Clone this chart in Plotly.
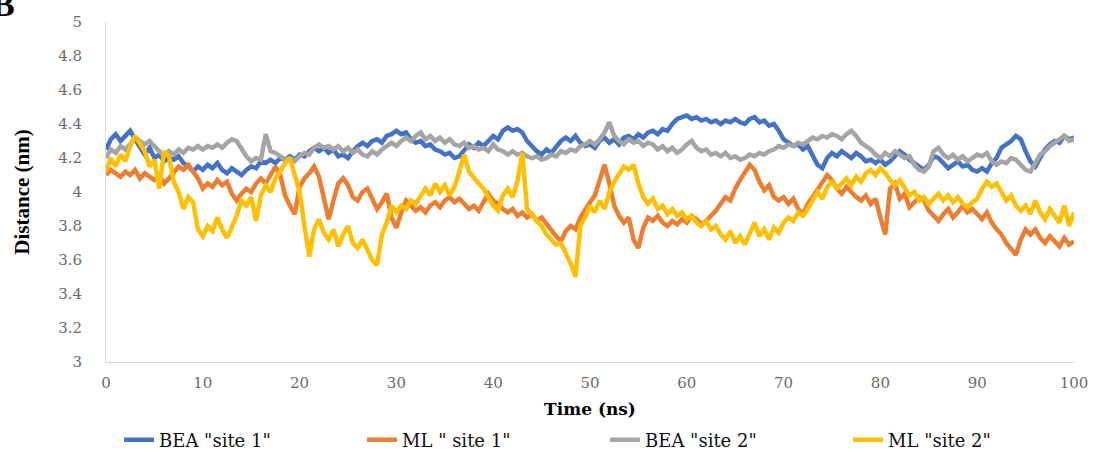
import numpy as np
import plotly.graph_objects as go

time_ns = [i * 0.5 for i in range(201)]

bea_site1 = [
    4.25, 4.31, 4.34, 4.30, 4.33, 4.36, 4.31, 4.27, 4.22, 4.26,
    4.20, 4.22, 4.18, 4.20, 4.19, 4.21, 4.17, 4.15, 4.12, 4.15,
    4.13, 4.16, 4.14, 4.17, 4.13, 4.11, 4.14, 4.12, 4.10, 4.13,
    4.15, 4.14, 4.18, 4.17, 4.19, 4.17, 4.20, 4.19, 4.21, 4.19,
    4.22, 4.21, 4.24, 4.26, 4.24, 4.26, 4.23, 4.25, 4.21, 4.22,
    4.20, 4.24, 4.27, 4.29, 4.27, 4.30, 4.31, 4.29, 4.33, 4.34,
    4.36, 4.34, 4.35, 4.31, 4.29, 4.30, 4.27, 4.28, 4.25, 4.24,
    4.22, 4.23, 4.20, 4.21, 4.25, 4.28, 4.26, 4.29, 4.27, 4.30,
    4.33, 4.31, 4.36, 4.38, 4.36, 4.37, 4.35, 4.30, 4.27, 4.24,
    4.22, 4.25, 4.23, 4.27, 4.30, 4.32, 4.30, 4.33, 4.29, 4.27,
    4.28, 4.26, 4.30, 4.32, 4.29, 4.31, 4.28, 4.32, 4.33, 4.31,
    4.34, 4.32, 4.35, 4.36, 4.34, 4.37, 4.36, 4.40, 4.43, 4.44,
    4.45, 4.43, 4.44, 4.42, 4.43, 4.41, 4.42, 4.40, 4.42, 4.41,
    4.43, 4.41, 4.40, 4.43, 4.44, 4.41, 4.42, 4.39, 4.40, 4.36,
    4.31, 4.29, 4.27, 4.28, 4.25, 4.27, 4.22, 4.16, 4.14, 4.20,
    4.23, 4.21, 4.24, 4.22, 4.20, 4.23, 4.21, 4.18, 4.19, 4.17,
    4.19, 4.16, 4.18, 4.21, 4.24, 4.22, 4.19, 4.17, 4.15, 4.13,
    4.16, 4.21, 4.20, 4.17, 4.14, 4.16, 4.18, 4.15, 4.16, 4.13,
    4.12, 4.14, 4.12, 4.17, 4.20, 4.26, 4.28, 4.30, 4.33, 4.31,
    4.24, 4.18, 4.15, 4.20, 4.25, 4.28, 4.30, 4.29, 4.33, 4.31,
    4.32,
]

ml_site1 = [
    4.10, 4.13, 4.11, 4.09, 4.12, 4.10, 4.13, 4.08, 4.11, 4.09,
    4.07, 4.10, 4.05, 4.08, 4.12, 4.15, 4.13, 4.16, 4.12, 4.08,
    4.02, 4.05, 4.03, 4.07, 4.04, 4.06, 3.99, 3.95, 3.99, 4.02,
    4.00, 4.05, 4.08, 4.05, 4.10, 4.15, 4.10, 3.98, 3.92, 3.87,
    4.03, 4.08, 4.11, 4.15, 4.09, 3.95, 3.84, 3.95, 4.05, 4.08,
    4.04, 3.97, 3.95, 4.00, 4.02, 3.96, 3.90, 3.94, 3.99, 3.85,
    3.79, 3.88, 3.95, 3.92, 3.89, 3.91, 3.88, 3.92, 3.94, 3.91,
    3.95, 3.97, 3.94, 3.96, 3.93, 3.90, 3.92, 3.89, 3.94, 3.99,
    3.95, 3.93, 3.90, 3.88, 3.90, 3.86, 3.88, 3.85, 3.87, 3.83,
    3.85, 3.81, 3.78, 3.74, 3.71, 3.77, 3.80, 3.78, 3.85, 3.90,
    3.94, 3.98, 4.08, 4.16, 4.05, 3.92, 3.86, 3.82, 3.85, 3.72,
    3.67, 3.79, 3.85, 3.83, 3.86, 3.82, 3.80, 3.83, 3.81, 3.84,
    3.82, 3.86, 3.84, 3.81, 3.83, 3.86, 3.89, 3.93, 3.97, 3.95,
    4.02, 4.07, 4.11, 4.16, 4.13, 4.06, 4.01, 4.04, 3.97, 3.95,
    3.97, 3.93, 3.96, 3.90, 3.87, 3.93, 3.97, 4.01, 4.05, 4.10,
    4.07, 4.02, 3.99, 4.03, 4.00, 3.97, 3.95, 3.98, 3.93, 3.96,
    3.85, 3.75, 4.02, 4.05, 3.96, 3.99, 3.91, 3.94, 3.97, 3.95,
    3.89, 3.86, 3.83, 3.87, 3.90, 3.85, 3.88, 3.92, 3.88, 3.90,
    3.87, 3.84, 3.88, 3.82, 3.78, 3.75, 3.70, 3.66, 3.63, 3.72,
    3.78, 3.75, 3.78, 3.73, 3.70, 3.74, 3.71, 3.68, 3.73, 3.69,
    3.71,
]

bea_site2 = [
    4.20, 4.25, 4.23, 4.27, 4.25, 4.28, 4.32, 4.30, 4.28, 4.30,
    4.27, 4.24, 4.21, 4.24, 4.22, 4.25, 4.23, 4.26, 4.25, 4.27,
    4.25, 4.27, 4.26, 4.28, 4.26, 4.29, 4.31, 4.30, 4.25, 4.21,
    4.18, 4.20, 4.19, 4.34, 4.24, 4.23, 4.21, 4.19, 4.20, 4.18,
    4.21, 4.23, 4.22, 4.26, 4.28, 4.26, 4.27, 4.25, 4.27, 4.24,
    4.26, 4.23, 4.25, 4.22, 4.21, 4.24, 4.22, 4.25, 4.27, 4.29,
    4.27, 4.30, 4.32, 4.30, 4.33, 4.35, 4.31, 4.33, 4.30, 4.32,
    4.29, 4.31, 4.28, 4.27, 4.29, 4.26, 4.27, 4.25, 4.26, 4.24,
    4.28, 4.25, 4.24, 4.22, 4.24, 4.22, 4.23, 4.21, 4.20, 4.21,
    4.19, 4.20, 4.22, 4.21, 4.24, 4.23, 4.25, 4.24, 4.27, 4.28,
    4.30, 4.28, 4.31, 4.35, 4.41, 4.33, 4.30, 4.28, 4.31, 4.29,
    4.30, 4.27, 4.29, 4.28, 4.25, 4.27, 4.24, 4.26, 4.23, 4.25,
    4.28, 4.30, 4.26, 4.24, 4.25, 4.22, 4.23, 4.21, 4.23, 4.20,
    4.21, 4.19, 4.20, 4.22, 4.21, 4.23, 4.22, 4.24, 4.25, 4.27,
    4.26, 4.28, 4.27, 4.29, 4.28, 4.30, 4.32, 4.31, 4.33, 4.32,
    4.34, 4.33, 4.31, 4.34, 4.36, 4.33, 4.29, 4.27, 4.25, 4.22,
    4.20, 4.23, 4.21, 4.24, 4.22, 4.20, 4.21, 4.16, 4.13, 4.12,
    4.15, 4.24, 4.26, 4.22, 4.20, 4.22, 4.19, 4.21, 4.18, 4.20,
    4.22, 4.21, 4.23, 4.18, 4.16, 4.18, 4.17, 4.20, 4.19, 4.16,
    4.13, 4.12, 4.17, 4.22, 4.24, 4.27, 4.29, 4.31, 4.33, 4.30,
    4.31,
]

ml_site2 = [
    4.12, 4.20, 4.15, 4.22, 4.18, 4.27, 4.33, 4.28, 4.24, 4.15,
    4.19, 4.02, 4.24, 4.21, 4.06, 4.00, 3.90, 3.97, 3.94, 3.78,
    3.74, 3.80, 3.77, 3.85, 3.78, 3.73, 3.80, 3.86, 3.95, 3.92,
    3.97, 3.83, 3.98, 4.04, 4.00, 4.08, 4.12, 4.17, 4.20, 4.10,
    4.00, 3.80, 3.62, 3.78, 3.84, 3.76, 3.72, 3.78, 3.68, 3.75,
    3.80, 3.70, 3.67, 3.72, 3.66, 3.60, 3.57, 3.75, 3.82, 3.92,
    3.88, 3.92, 3.90, 3.95, 3.93, 3.98, 4.02, 3.98, 4.05, 4.00,
    4.04, 3.98, 4.03, 4.12, 4.22, 4.12, 4.08, 4.05, 4.02, 3.97,
    3.92, 3.89, 3.98, 4.02, 3.97, 4.06, 4.23, 3.90, 3.86, 3.83,
    3.80, 3.75, 3.72, 3.69, 3.70, 3.64, 3.58, 3.50, 3.80, 3.85,
    3.92, 3.88, 3.95, 3.90, 4.00, 4.06, 4.10, 4.15, 4.13, 4.16,
    4.05, 3.97, 3.93, 3.96, 3.90, 3.92, 3.87, 3.90, 3.86, 3.88,
    3.84, 3.86, 3.82, 3.80, 3.83, 3.78, 3.80, 3.75, 3.72, 3.77,
    3.70, 3.74, 3.69, 3.76, 3.82, 3.74, 3.78, 3.72, 3.79, 3.76,
    3.82, 3.85, 3.83, 3.88, 3.86, 3.90, 3.95, 4.00, 3.96, 4.03,
    4.06, 4.02, 4.05, 4.08, 4.04, 4.09, 4.06, 4.11, 4.13, 4.10,
    4.14, 4.11, 4.07, 4.04, 4.07, 4.02, 3.98, 4.00, 3.95, 3.97,
    3.93, 3.96, 3.99, 3.95, 3.98, 3.94, 3.97, 3.93, 3.91, 3.94,
    3.96, 4.02, 4.06, 4.03, 4.05, 4.00, 3.95, 3.98, 3.92, 3.89,
    3.92, 3.87, 3.95, 3.88, 3.84, 3.90, 3.86, 3.82, 3.92, 3.80,
    3.88,
]

series_names = ['BEA "site 1"', 'ML " site 1"', 'BEA "site 2"', 'ML "site 2"']
series_colors = ["#4472C4", "#ED7D31", "#A5A5A5", "#FFC000"]
x_tick_vals = [0, 10, 20, 30, 40, 50, 60, 70, 80, 90, 100]
x_tick_text = ["0", "10", "20", "30", "40", "50", "60", "70", "80", "90", "100"]
y_tick_vals = [3, 3.2, 3.4, 3.6, 3.8, 4, 4.2, 4.4, 4.6, 4.8, 5]
y_tick_text = ["3", "3.2", "3.4", "3.6", "3.8", "4", "4.2", "4.4", "4.6", "4.8", "5"]

fig = go.Figure()
for name, ys, col in zip(series_names, [bea_site1, ml_site1, bea_site2, ml_site2], series_colors):
    fig.add_trace(go.Scatter(x=time_ns, y=ys, mode="lines", name=name,
                             line=dict(color=col, width=4.5)))

tick_font = dict(family="DejaVu Serif", size=15, color="#6b6b6b")

fig.update_layout(
    width=1097, height=456,
    margin=dict(l=106, r=23, t=22, b=94, autoexpand=False),
    paper_bgcolor="white", plot_bgcolor="white",
    showlegend=True,
    legend=dict(orientation="h", xref="container", yref="container",
                x=0.1085, xanchor="left", y=0.035, yanchor="middle",
                font=dict(family="DejaVu Serif", size=18, color="#111"),
                entrywidth=198, entrywidthmode="pixels", tracegroupgap=0,
                bgcolor="rgba(0,0,0,0)"),
    xaxis=dict(range=[0, 100], tickvals=x_tick_vals, ticktext=x_tick_text,
               showgrid=False, zeroline=False, showline=True, linecolor="#d9d9d9",
               linewidth=1, ticks="", tickfont=tick_font, ticklabelstandoff=7,
               title=dict(text="<b>Time (ns)</b>", standoff=12,
                          font=dict(family="DejaVu Serif", size=17, color="#000"))),
    yaxis=dict(range=[3, 5], tickvals=y_tick_vals, ticktext=y_tick_text,
               showgrid=False, zeroline=False, showline=True, linecolor="#d9d9d9",
               linewidth=1, ticks="", tickfont=tick_font, ticklabelstandoff=20,
               title=dict(text="<b>Distance (nm)</b>", standoff=22,
                          font=dict(family="Liberation Serif", size=21, color="#000"))),
    annotations=[dict(text="<b>B</b>", xref="paper", yref="paper",
                      x=-0.120, y=1.112, xanchor="left", yanchor="top", showarrow=False,
                      font=dict(family="Liberation Serif", size=34, color="#000"))],
)

fig.write_html("out.html")
